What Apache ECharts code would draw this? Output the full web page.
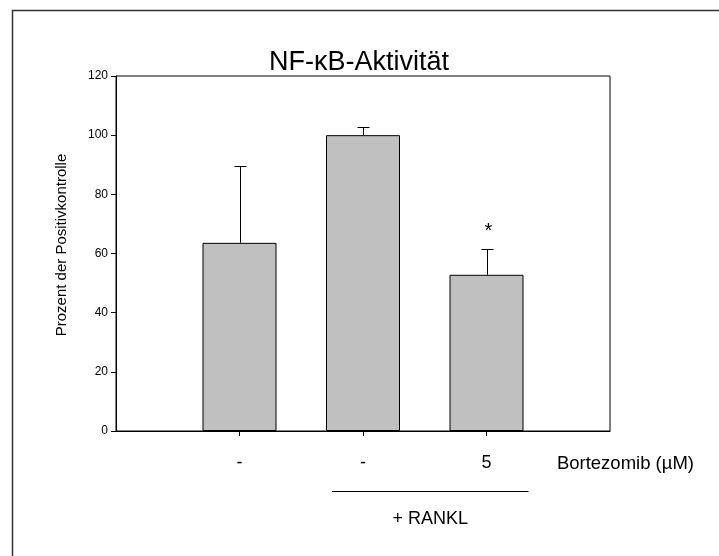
<!DOCTYPE html>
<html>
<head>
<meta charset="utf-8">
<script src="https://cdn.jsdelivr.net/npm/echarts@6/dist/echarts.min.js"></script>
<style>
html,body{margin:0;padding:0;background:#fff;}
#c{width:719px;height:556px;}
</style>
</head>
<body>
<div id="c"></div>
<script>
// ---- data ----
var categories = ['', '-', '-', '5', ''];
var means = [null, 63.6, 100, 52.8, null];
var sdUpper = [null, 25.9, 2.6, 8.7, null];
var significance = ['', '', '', '*', ''];
var yTicks = [0, 20, 40, 60, 80, 100, 120];
var titleText = 'NF-\u03baB-Aktivit\u00e4t';
var yName = 'Prozent der Positivkontrolle';
var xName = 'Bortezomib (\u00b5M)';
var groupLabel = '+ RANKL';

var FONT = '"Liberation Sans", Arial, sans-serif';
var chart = echarts.init(document.getElementById('c'), null, {renderer: 'canvas'});

var errData = [];
for (var i = 0; i < categories.length; i++) {
  if (means[i] != null) errData.push([i, means[i], means[i] + sdUpper[i], significance[i]]);
}

var G = {left: 116, top: 76, width: 494, height: 355};

var option = {
  backgroundColor: '#fff',
  animation: false,
  title: {
    text: titleText,
    left: 354,
    textAlign: 'center',
    top: 44,
    textStyle: {fontFamily: FONT, fontSize: 27, fontWeight: 'normal', color: '#000'}
  },
  grid: {left: G.left, top: G.top, width: G.width, height: G.height, show: true,
         borderColor: '#000', borderWidth: 1, backgroundColor: 'transparent'},
  xAxis: {
    type: 'category',
    data: categories,
    boundaryGap: false,
    axisLine: {lineStyle: {color: '#000', width: 1}},
    axisTick: {show: true, inside: false, length: 5, lineStyle: {color: '#000'},
               interval: function (idx) { return idx > 0 && idx < categories.length - 1; }},
    axisLabel: {fontFamily: FONT, fontSize: 18, color: '#000', margin: 23,
                interval: 0},
    splitLine: {show: false}
  },
  yAxis: {
    type: 'value',
    min: yTicks[0], max: yTicks[yTicks.length - 1], interval: yTicks[1] - yTicks[0],
    name: yName,
    nameLocation: 'middle',
    nameGap: 47,
    nameTextStyle: {fontFamily: FONT, fontSize: 15, color: '#000', padding: [0, 0, 0, 17]},
    axisLine: {show: true, lineStyle: {color: '#000', width: 1}},
    axisTick: {show: true, length: 5, lineStyle: {color: '#000'}},
    axisLabel: {fontFamily: FONT, fontSize: 12, color: '#000', margin: 8},
    splitLine: {show: false}
  },
  series: [
    {
      type: 'bar',
      data: means,
      barWidth: 74,
      itemStyle: {color: '#c0c0c0', borderColor: '#000', borderWidth: 1},
      z: 2
    },
    {
      type: 'custom',
      data: errData,
      z: 3,
      renderItem: function (params, api) {
        var x = api.value(0);
        var p0 = api.coord([x, api.value(1)]);
        var p1 = api.coord([x, api.value(2)]);
        var cx = Math.round(p0[0]) + 0.5;
        var children = [
          {type: 'line', shape: {x1: cx, y1: p0[1], x2: cx, y2: p1[1]},
           style: {stroke: '#000', lineWidth: 1}},
          {type: 'line', shape: {x1: cx - 6, y1: Math.round(p1[1]) + 0.5, x2: cx + 6, y2: Math.round(p1[1]) + 0.5},
           style: {stroke: '#000', lineWidth: 1}}
        ];
        var s = api.value(3);
        if (s) {
          children.push({type: 'text', x: cx + 1, y: p1[1] - 18,
            style: {text: s, fontFamily: FONT, fontSize: 20, fill: '#000', align: 'center', verticalAlign: 'middle'}});
        }
        return {type: 'group', children: children};
      }
    }
  ]
};
chart.setOption(option);

// annotations placed via the axes (interpolated between category positions)
function px(v) {
  var i0 = Math.floor(v), f = v - i0;
  var a = chart.convertToPixel({xAxisIndex: 0, yAxisIndex: 0}, [i0, 0]);
  var b = chart.convertToPixel({xAxisIndex: 0, yAxisIndex: 0}, [i0 + 1, 0]);
  return [a[0] + f * (b[0] - a[0]), a[1]];
}
var pA = px(1.75);
var pB = px(3.34);
var pL = px(3.57);
var yBase = pA[1];
chart.setOption({
  graphic: [
    {type: 'polyline', shape: {points: [[12.5, 556], [12.5, 10.5], [719, 10.5]]},
     style: {stroke: '#333', lineWidth: 1.5, fill: null}},
    {type: 'text', x: pL[0], y: yBase + 33,
     style: {text: xName, fontFamily: FONT, fontSize: 18.5, fill: '#000', align: 'left', verticalAlign: 'middle'}},
    {type: 'line', shape: {x1: pA[0], y1: yBase + 60.5, x2: pB[0], y2: yBase + 60.5},
     style: {stroke: '#000', lineWidth: 1}},
    {type: 'text', x: (pA[0] + pB[0]) / 2, y: yBase + 88,
     style: {text: groupLabel, fontFamily: FONT, fontSize: 18, fill: '#000', align: 'center', verticalAlign: 'middle'}}
  ]
});
</script>
</body>
</html>
